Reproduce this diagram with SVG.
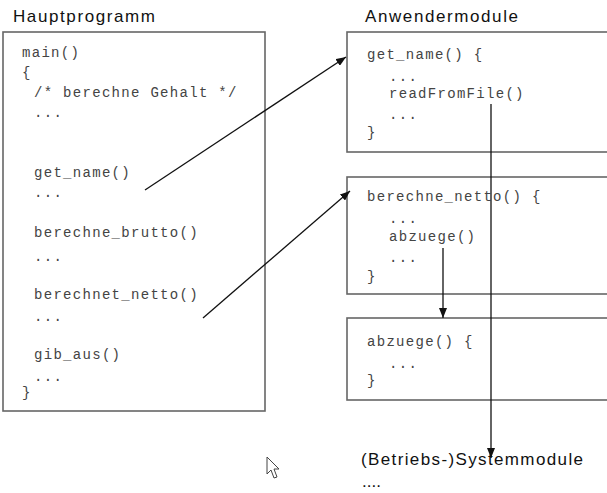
<svg xmlns="http://www.w3.org/2000/svg" width="607" height="493" viewBox="0 0 607 493">
<style>
.box{fill:#fff;stroke:#666;stroke-width:1.6}
.code{font-family:"Liberation Mono",monospace;font-size:14px;letter-spacing:1.3px;fill:#444}
.head{font-family:"Liberation Sans",Arial,sans-serif;font-size:17px;fill:#111}
.conn{stroke:#111;stroke-width:1.3;fill:none}
</style>
<defs>
<marker id="ah" markerWidth="10" markerHeight="8" refX="10" refY="4" orient="auto" markerUnits="userSpaceOnUse">
<path d="M0,0 L10,4 L0,8 Z" fill="#111"/>
</marker>
</defs>
<rect width="607" height="493" fill="#fff"/>
<text class="head" x="13" y="22" textLength="142">Hauptprogramm</text>
<text class="head" x="365" y="22" textLength="153">Anwendermodule</text>
<g id="hauptprogramm">
<rect class="box" x="3" y="32" width="262" height="379"/>
<text class="code" x="22" y="57">main()</text>
<text class="code" x="22" y="77">{</text>
<text class="code" x="34" y="97">/* berechne Gehalt */</text>
<text class="code" x="34" y="117">...</text>
<text class="code" x="34" y="177">get_name()</text>
<text class="code" x="34" y="197">...</text>
<text class="code" x="34" y="237">berechne_brutto()</text>
<text class="code" x="34" y="261">...</text>
<text class="code" x="34" y="299">berechnet_netto()</text>
<text class="code" x="34" y="321">...</text>
<text class="code" x="34" y="359">gib_aus()</text>
<text class="code" x="34" y="381">...</text>
<text class="code" x="22" y="397">}</text>
</g>
<g id="get_name">
<rect class="box" x="347" y="32" width="280" height="120"/>
<text class="code" x="367" y="59">get_name() {</text>
<text class="code" x="389" y="81">...</text>
<text class="code" x="389" y="98">readFromFile()</text>
<text class="code" x="389" y="119">...</text>
<text class="code" x="367" y="137">}</text>
</g>
<g id="berechne_netto">
<rect class="box" x="347" y="177" width="280" height="117"/>
<text class="code" x="367" y="201">berechne_netto() {</text>
<text class="code" x="389" y="223">...</text>
<text class="code" x="389" y="241">abzuege()</text>
<text class="code" x="389" y="262">...</text>
<text class="code" x="367" y="281">}</text>
</g>
<g id="abzuege">
<rect class="box" x="347" y="318" width="280" height="82"/>
<text class="code" x="367" y="346">abzuege() {</text>
<text class="code" x="389" y="368">...</text>
<text class="code" x="367" y="385">}</text>
</g>
<g id="systemmodule">
<text class="head" x="361" y="465" textLength="222">(Betriebs-)Systemmodule</text>
<text class="head" x="362" y="487">....</text>
</g>
<g id="connectors">
<line class="conn" x1="145" y1="190" x2="346" y2="57" marker-end="url(#ah)"/>
<line class="conn" x1="203" y1="318" x2="350" y2="191" marker-end="url(#ah)"/>
<line class="conn" x1="491" y1="104" x2="491" y2="458" marker-end="url(#ah)"/>
<line class="conn" x1="443" y1="248" x2="443" y2="318" marker-end="url(#ah)"/>
</g>
<path d="M267,457 L267,474 L271,470 L274,478 L277,477 L274,469 L279,469 Z" fill="#fff" stroke="#444" stroke-width="1"/>
</svg>
